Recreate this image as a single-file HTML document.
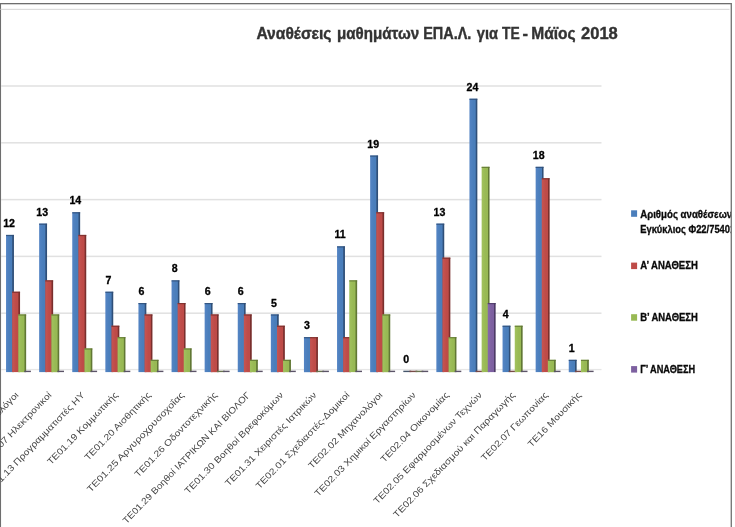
<!DOCTYPE html>
<html lang="el"><head><meta charset="utf-8"><title>Αναθέσεις μαθημάτων ΕΠΑ.Λ. για ΤΕ - Μάϊος 2018</title>
<style>
html,body{margin:0;padding:0;background:#fff;}
body{width:735px;height:527px;overflow:hidden;}
svg{display:block;font-family:"Liberation Sans",sans-serif;}
.v{font-weight:bold;font-size:10.6px;fill:#000;stroke:#000;stroke-width:0.3px;text-anchor:middle;}
.c{font-size:9px;fill:#454545;text-anchor:end;}
.l{font-weight:bold;font-size:10.4px;fill:#0a0a0a;stroke:#0a0a0a;stroke-width:0.3px;}
.t{font-weight:bold;font-size:17px;fill:#333;stroke:#333;stroke-width:0.4px;}
</style></head><body>
<svg width="735" height="527" viewBox="0 0 735 527">
<rect width="735" height="527" fill="#fff"/>

<defs>
<linearGradient id="g0" x1="0" y1="0" x2="1" y2="0"><stop offset="0" stop-color="#5484c4"/><stop offset="0.5" stop-color="#4a7ebb"/><stop offset="0.74" stop-color="#4a7ebb"/><stop offset="0.84" stop-color="#2f4f78"/><stop offset="1" stop-color="#2f4f78"/></linearGradient>
<linearGradient id="g1" x1="0" y1="0" x2="1" y2="0"><stop offset="0" stop-color="#c65552"/><stop offset="0.5" stop-color="#be4b48"/><stop offset="0.74" stop-color="#be4b48"/><stop offset="0.84" stop-color="#7a2f2d"/><stop offset="1" stop-color="#7a2f2d"/></linearGradient>
<linearGradient id="g2" x1="0" y1="0" x2="1" y2="0"><stop offset="0" stop-color="#a2c25e"/><stop offset="0.5" stop-color="#98b954"/><stop offset="0.74" stop-color="#98b954"/><stop offset="0.84" stop-color="#617834"/><stop offset="1" stop-color="#617834"/></linearGradient>
<linearGradient id="g3" x1="0" y1="0" x2="1" y2="0"><stop offset="0" stop-color="#8769aa"/><stop offset="0.5" stop-color="#7d60a0"/><stop offset="0.74" stop-color="#7d60a0"/><stop offset="0.84" stop-color="#4d3b66"/><stop offset="1" stop-color="#4d3b66"/></linearGradient>
</defs>
<rect x="0" y="3" width="732" height="1.3" fill="#6e6e6e"/>
<rect x="0" y="3" width="1.05" height="524" fill="#6e6e6e"/>
<rect x="730.6" y="3" width="1.4" height="524" fill="#7a7a7a"/>
<rect x="0.5" y="8.8" width="729" height="1.2" fill="#dcdcdc"/>
<rect x="1" y="85.25" width="600.5" height="1.5" fill="#e1e1e1"/>
<rect x="1" y="142.05" width="600.5" height="1.5" fill="#e1e1e1"/>
<rect x="1" y="198.85" width="600.5" height="1.5" fill="#e1e1e1"/>
<rect x="1" y="255.65" width="600.5" height="1.5" fill="#e1e1e1"/>
<rect x="1" y="312.45" width="600.5" height="1.5" fill="#e1e1e1"/>
<rect x="1" y="368.9" width="600.5" height="1.3" fill="#e6e6e6"/>
<rect x="6.05" y="234.9" width="7.9" height="137.2" fill="url(#g0)"/>
<rect x="6.05" y="234.9" width="7.9" height="1.2" fill="#2f4f78" opacity="0.85"/>
<rect x="12.15" y="291.7" width="7.9" height="80.4" fill="url(#g1)"/>
<rect x="12.15" y="291.7" width="7.9" height="1.2" fill="#7a2f2d" opacity="0.85"/>
<rect x="18.25" y="314.4" width="7.9" height="57.8" fill="url(#g2)"/>
<rect x="18.25" y="314.4" width="7.9" height="1.2" fill="#617834" opacity="0.85"/>
<rect x="24.3" y="370.7" width="6.6" height="1.4" fill="#5c5468"/>
<text class="v" transform="translate(9.1 227.0) scale(1 1)">12</text>
<rect x="39.15" y="223.6" width="7.9" height="148.5" fill="url(#g0)"/>
<rect x="39.15" y="223.6" width="7.9" height="1.2" fill="#2f4f78" opacity="0.85"/>
<rect x="45.25" y="280.3" width="7.9" height="91.8" fill="url(#g1)"/>
<rect x="45.25" y="280.3" width="7.9" height="1.2" fill="#7a2f2d" opacity="0.85"/>
<rect x="51.35" y="314.4" width="7.9" height="57.8" fill="url(#g2)"/>
<rect x="51.35" y="314.4" width="7.9" height="1.2" fill="#617834" opacity="0.85"/>
<rect x="57.4" y="370.7" width="6.6" height="1.4" fill="#5c5468"/>
<text class="v" transform="translate(42.2 215.7) scale(1 1)">13</text>
<rect x="72.25" y="212.2" width="7.9" height="159.9" fill="url(#g0)"/>
<rect x="72.25" y="212.2" width="7.9" height="1.2" fill="#2f4f78" opacity="0.85"/>
<rect x="78.35" y="234.9" width="7.9" height="137.2" fill="url(#g1)"/>
<rect x="78.35" y="234.9" width="7.9" height="1.2" fill="#7a2f2d" opacity="0.85"/>
<rect x="84.45" y="348.4" width="7.9" height="23.7" fill="url(#g2)"/>
<rect x="84.45" y="348.4" width="7.9" height="1.2" fill="#617834" opacity="0.85"/>
<rect x="90.5" y="370.7" width="6.6" height="1.4" fill="#5c5468"/>
<text class="v" transform="translate(75.3 204.3) scale(1 1)">14</text>
<rect x="105.35" y="291.7" width="7.9" height="80.4" fill="url(#g0)"/>
<rect x="105.35" y="291.7" width="7.9" height="1.2" fill="#2f4f78" opacity="0.85"/>
<rect x="111.45" y="325.7" width="7.9" height="46.4" fill="url(#g1)"/>
<rect x="111.45" y="325.7" width="7.9" height="1.2" fill="#7a2f2d" opacity="0.85"/>
<rect x="117.55" y="337.1" width="7.9" height="35.1" fill="url(#g2)"/>
<rect x="117.55" y="337.1" width="7.9" height="1.2" fill="#617834" opacity="0.85"/>
<rect x="123.7" y="370.7" width="6.6" height="1.4" fill="#5c5468"/>
<text class="v" transform="translate(108.4 283.8) scale(1 1)">7</text>
<rect x="138.45" y="303.0" width="7.9" height="69.1" fill="url(#g0)"/>
<rect x="138.45" y="303.0" width="7.9" height="1.2" fill="#2f4f78" opacity="0.85"/>
<rect x="144.55" y="314.4" width="7.9" height="57.8" fill="url(#g1)"/>
<rect x="144.55" y="314.4" width="7.9" height="1.2" fill="#7a2f2d" opacity="0.85"/>
<rect x="150.65" y="359.8" width="7.9" height="12.4" fill="url(#g2)"/>
<rect x="150.65" y="359.8" width="7.9" height="1.2" fill="#617834" opacity="0.85"/>
<rect x="156.8" y="370.7" width="6.6" height="1.4" fill="#5c5468"/>
<text class="v" transform="translate(141.5 295.1) scale(1 1)">6</text>
<rect x="171.55" y="280.3" width="7.9" height="91.8" fill="url(#g0)"/>
<rect x="171.55" y="280.3" width="7.9" height="1.2" fill="#2f4f78" opacity="0.85"/>
<rect x="177.65" y="303.0" width="7.9" height="69.1" fill="url(#g1)"/>
<rect x="177.65" y="303.0" width="7.9" height="1.2" fill="#7a2f2d" opacity="0.85"/>
<rect x="183.75" y="348.4" width="7.9" height="23.7" fill="url(#g2)"/>
<rect x="183.75" y="348.4" width="7.9" height="1.2" fill="#617834" opacity="0.85"/>
<rect x="189.9" y="370.7" width="6.6" height="1.4" fill="#5c5468"/>
<text class="v" transform="translate(174.6 272.4) scale(1 1)">8</text>
<rect x="204.65" y="303.0" width="7.9" height="69.1" fill="url(#g0)"/>
<rect x="204.65" y="303.0" width="7.9" height="1.2" fill="#2f4f78" opacity="0.85"/>
<rect x="210.75" y="314.4" width="7.9" height="57.8" fill="url(#g1)"/>
<rect x="210.75" y="314.4" width="7.9" height="1.2" fill="#7a2f2d" opacity="0.85"/>
<rect x="216.9" y="370.7" width="7.9" height="1.4" fill="#6a7450"/>
<rect x="223.0" y="370.7" width="6.6" height="1.4" fill="#5c5468"/>
<text class="v" transform="translate(207.7 295.1) scale(1 1)">6</text>
<rect x="237.75" y="303.0" width="7.9" height="69.1" fill="url(#g0)"/>
<rect x="237.75" y="303.0" width="7.9" height="1.2" fill="#2f4f78" opacity="0.85"/>
<rect x="243.85" y="314.4" width="7.9" height="57.8" fill="url(#g1)"/>
<rect x="243.85" y="314.4" width="7.9" height="1.2" fill="#7a2f2d" opacity="0.85"/>
<rect x="249.95" y="359.8" width="7.9" height="12.4" fill="url(#g2)"/>
<rect x="249.95" y="359.8" width="7.9" height="1.2" fill="#617834" opacity="0.85"/>
<rect x="256.1" y="370.7" width="6.6" height="1.4" fill="#5c5468"/>
<text class="v" transform="translate(240.8 295.1) scale(1 1)">6</text>
<rect x="270.85" y="314.4" width="7.9" height="57.8" fill="url(#g0)"/>
<rect x="270.85" y="314.4" width="7.9" height="1.2" fill="#2f4f78" opacity="0.85"/>
<rect x="276.95" y="325.7" width="7.9" height="46.4" fill="url(#g1)"/>
<rect x="276.95" y="325.7" width="7.9" height="1.2" fill="#7a2f2d" opacity="0.85"/>
<rect x="283.05" y="359.8" width="7.9" height="12.4" fill="url(#g2)"/>
<rect x="283.05" y="359.8" width="7.9" height="1.2" fill="#617834" opacity="0.85"/>
<rect x="289.2" y="370.7" width="6.6" height="1.4" fill="#5c5468"/>
<text class="v" transform="translate(273.9 306.5) scale(1 1)">5</text>
<rect x="303.95" y="337.1" width="7.9" height="35.1" fill="url(#g0)"/>
<rect x="303.95" y="337.1" width="7.9" height="1.2" fill="#2f4f78" opacity="0.85"/>
<rect x="310.05" y="337.1" width="7.9" height="35.1" fill="url(#g1)"/>
<rect x="310.05" y="337.1" width="7.9" height="1.2" fill="#7a2f2d" opacity="0.85"/>
<rect x="316.2" y="370.7" width="7.9" height="1.4" fill="#6a7450"/>
<rect x="322.3" y="370.7" width="6.6" height="1.4" fill="#5c5468"/>
<text class="v" transform="translate(307.0 329.2) scale(1 1)">3</text>
<rect x="337.05" y="246.3" width="7.9" height="125.8" fill="url(#g0)"/>
<rect x="337.05" y="246.3" width="7.9" height="1.2" fill="#2f4f78" opacity="0.85"/>
<rect x="343.15" y="337.1" width="7.9" height="35.1" fill="url(#g1)"/>
<rect x="343.15" y="337.1" width="7.9" height="1.2" fill="#7a2f2d" opacity="0.85"/>
<rect x="349.25" y="280.3" width="7.9" height="91.8" fill="url(#g2)"/>
<rect x="349.25" y="280.3" width="7.9" height="1.2" fill="#617834" opacity="0.85"/>
<rect x="355.4" y="370.7" width="6.6" height="1.4" fill="#5c5468"/>
<text class="v" transform="translate(340.1 238.4) scale(1 1)">11</text>
<rect x="370.15" y="155.5" width="7.9" height="216.7" fill="url(#g0)"/>
<rect x="370.15" y="155.5" width="7.9" height="1.2" fill="#2f4f78" opacity="0.85"/>
<rect x="376.25" y="212.2" width="7.9" height="159.9" fill="url(#g1)"/>
<rect x="376.25" y="212.2" width="7.9" height="1.2" fill="#7a2f2d" opacity="0.85"/>
<rect x="382.35" y="314.4" width="7.9" height="57.8" fill="url(#g2)"/>
<rect x="382.35" y="314.4" width="7.9" height="1.2" fill="#617834" opacity="0.85"/>
<rect x="388.5" y="370.7" width="6.6" height="1.4" fill="#5c5468"/>
<text class="v" transform="translate(373.2 147.6) scale(1 1)">19</text>
<rect x="403.3" y="370.7" width="7.9" height="1.4" fill="#46566c"/>
<rect x="409.4" y="370.7" width="7.9" height="1.4" fill="#7a4a48"/>
<rect x="415.5" y="370.7" width="7.9" height="1.4" fill="#6a7450"/>
<rect x="421.6" y="370.7" width="6.6" height="1.4" fill="#5c5468"/>
<text class="v" transform="translate(406.3 363.2) scale(1 1)">0</text>
<rect x="436.35" y="223.6" width="7.9" height="148.5" fill="url(#g0)"/>
<rect x="436.35" y="223.6" width="7.9" height="1.2" fill="#2f4f78" opacity="0.85"/>
<rect x="442.45" y="257.6" width="7.9" height="114.5" fill="url(#g1)"/>
<rect x="442.45" y="257.6" width="7.9" height="1.2" fill="#7a2f2d" opacity="0.85"/>
<rect x="448.55" y="337.1" width="7.9" height="35.1" fill="url(#g2)"/>
<rect x="448.55" y="337.1" width="7.9" height="1.2" fill="#617834" opacity="0.85"/>
<rect x="454.7" y="370.7" width="6.6" height="1.4" fill="#5c5468"/>
<text class="v" transform="translate(439.4 215.7) scale(1 1)">13</text>
<rect x="469.45" y="98.7" width="7.9" height="273.4" fill="url(#g0)"/>
<rect x="469.45" y="98.7" width="7.9" height="1.2" fill="#2f4f78" opacity="0.85"/>
<rect x="475.6" y="370.7" width="7.9" height="1.4" fill="#7a4a48"/>
<rect x="481.65" y="166.8" width="7.9" height="205.3" fill="url(#g2)"/>
<rect x="481.65" y="166.8" width="7.9" height="1.2" fill="#617834" opacity="0.85"/>
<rect x="487.75" y="303.0" width="7.9" height="69.1" fill="url(#g3)"/>
<rect x="487.75" y="303.0" width="7.9" height="1.2" fill="#4d3b66" opacity="0.85"/>
<text class="v" transform="translate(472.5 90.8) scale(1 1)">24</text>
<rect x="502.55" y="325.7" width="7.9" height="46.4" fill="url(#g0)"/>
<rect x="502.55" y="325.7" width="7.9" height="1.2" fill="#2f4f78" opacity="0.85"/>
<rect x="508.7" y="370.7" width="7.9" height="1.4" fill="#7a4a48"/>
<rect x="514.75" y="325.7" width="7.9" height="46.4" fill="url(#g2)"/>
<rect x="514.75" y="325.7" width="7.9" height="1.2" fill="#617834" opacity="0.85"/>
<rect x="520.9" y="370.7" width="6.6" height="1.4" fill="#5c5468"/>
<text class="v" transform="translate(505.6 317.8) scale(1 1)">4</text>
<rect x="535.65" y="166.8" width="7.9" height="205.3" fill="url(#g0)"/>
<rect x="535.65" y="166.8" width="7.9" height="1.2" fill="#2f4f78" opacity="0.85"/>
<rect x="541.75" y="178.2" width="7.9" height="193.9" fill="url(#g1)"/>
<rect x="541.75" y="178.2" width="7.9" height="1.2" fill="#7a2f2d" opacity="0.85"/>
<rect x="547.85" y="359.8" width="7.9" height="12.4" fill="url(#g2)"/>
<rect x="547.85" y="359.8" width="7.9" height="1.2" fill="#617834" opacity="0.85"/>
<rect x="553.9" y="370.7" width="6.6" height="1.4" fill="#5c5468"/>
<text class="v" transform="translate(538.7 158.9) scale(1 1)">18</text>
<rect x="568.75" y="359.8" width="7.9" height="12.4" fill="url(#g0)"/>
<rect x="568.75" y="359.8" width="7.9" height="1.2" fill="#2f4f78" opacity="0.85"/>
<rect x="574.9" y="370.7" width="7.9" height="1.4" fill="#7a4a48"/>
<rect x="580.95" y="359.8" width="7.9" height="12.4" fill="url(#g2)"/>
<rect x="580.95" y="359.8" width="7.9" height="1.2" fill="#617834" opacity="0.85"/>
<rect x="587.0" y="370.7" width="6.6" height="1.4" fill="#5c5468"/>
<text class="v" transform="translate(571.8 351.9) scale(1 1)">1</text>
<text class="c" transform="translate(19.1 395.5) rotate(-46) scale(1.155 1)">ΤΕ01.06 Ηλεκτρολόγοι</text>
<text class="c" transform="translate(52.1 395.5) rotate(-46) scale(1.155 1)">ΤΕ01.07 Ηλεκτρονικοί</text>
<text class="c" transform="translate(85.2 395.5) rotate(-46) scale(1.155 1)">ΤΕ01.13 Προγραμματιστές ΗΥ</text>
<text class="c" transform="translate(118.4 395.5) rotate(-46) scale(1.155 1)">ΤΕ01.19 Κομμωτικής</text>
<text class="c" transform="translate(151.5 395.5) rotate(-46) scale(1.155 1)">ΤΕ01.20 Αισθητικής</text>
<text class="c" transform="translate(184.6 395.5) rotate(-46) scale(1.201 1)">ΤΕ01.25 Αργυροχρυσοχοΐας</text>
<text class="c" transform="translate(217.7 395.5) rotate(-46) scale(1.155 1)">ΤΕ01.26 Οδοντοτεχνικής</text>
<text class="c" transform="translate(250.8 395.5) rotate(-46) scale(1.115 1)">ΤΕ01.29 Βοηθοί ΙΑΤΡΙΚΩΝ ΚΑΙ ΒΙΟΛΟΓ</text>
<text class="c" transform="translate(283.9 395.5) rotate(-46) scale(1.155 1)">ΤΕ01.30 Βοηθοί Βρεφοκόμων</text>
<text class="c" transform="translate(317.0 395.5) rotate(-46) scale(1.155 1)">ΤΕ01.31 Χειριστές Ιατρικών</text>
<text class="c" transform="translate(350.1 395.5) rotate(-46) scale(1.155 1)">ΤΕ02.01 Σχεδιαστές-Δομικοί</text>
<text class="c" transform="translate(383.2 395.5) rotate(-46) scale(1.155 1)">ΤΕ02.02 Μηχανολόγοι</text>
<text class="c" transform="translate(416.3 395.5) rotate(-46) scale(1.155 1)">ΤΕ02.03 Χημικοί Εργαστηρίων</text>
<text class="c" transform="translate(449.4 395.5) rotate(-46) scale(1.155 1)">ΤΕ02.04 Οικονομίας</text>
<text class="c" transform="translate(482.5 395.5) rotate(-46) scale(1.155 1)">ΤΕ02.05 Εφαρμοσμένων Τεχνών</text>
<text class="c" transform="translate(515.5 395.5) rotate(-46) scale(1.155 1)">ΤΕ02.06 Σχεδιασμού και Παραγωγής</text>
<text class="c" transform="translate(548.6 395.5) rotate(-46) scale(1.155 1)">ΤΕ02.07 Γεωπονίας</text>
<text class="c" transform="translate(581.8 395.5) rotate(-46) scale(1.155 1)">ΤΕ16 Μουσικής</text>
<text class="t" x="256.4" y="38.8" textLength="75.1" lengthAdjust="spacingAndGlyphs">Αναθέσεις</text>
<text class="t" x="337.0" y="38.8" textLength="82.1" lengthAdjust="spacingAndGlyphs">μαθημάτων</text>
<text class="t" x="423.2" y="38.8" textLength="48.2" lengthAdjust="spacingAndGlyphs">ΕΠΑ.Λ.</text>
<text class="t" x="476.8" y="38.8" textLength="21.2" lengthAdjust="spacingAndGlyphs">για</text>
<text class="t" x="502.1" y="38.8" textLength="17.7" lengthAdjust="spacingAndGlyphs">ΤΕ</text>
<text class="t" x="522.5" y="38.8" textLength="5.5" lengthAdjust="spacingAndGlyphs">-</text>
<text class="t" x="531.2" y="38.8" textLength="44.4" lengthAdjust="spacingAndGlyphs">Μάϊος</text>
<text class="t" x="581.0" y="38.8" textLength="36.8" lengthAdjust="spacingAndGlyphs">2018</text>
<rect x="631.1" y="210.3" width="6" height="6.5" fill="#4a7ebb"/>
<rect x="631.1" y="262.6" width="6" height="6.5" fill="#be4b48"/>
<rect x="631.1" y="314.2" width="6" height="6.5" fill="#98b954"/>
<rect x="631.1" y="366.1" width="6" height="6.5" fill="#7d60a0"/>
<clipPath id="lc"><rect x="600" y="190" width="130.6" height="60"/></clipPath>
<g clip-path="url(#lc)"><text class="l" x="640.2" y="217.5" textLength="92" lengthAdjust="spacingAndGlyphs">Αριθμός αναθέσεων</text>
<text class="l" x="640.2" y="232.5" textLength="95" lengthAdjust="spacingAndGlyphs">Εγκύκλιος Φ22/75401</text></g>
<text class="l" x="640.2" y="268.9" textLength="57.7" lengthAdjust="spacingAndGlyphs">Α’ ΑΝΑΘΕΣΗ</text>
<text class="l" x="640.2" y="321" textLength="57.7" lengthAdjust="spacingAndGlyphs">Β’ ΑΝΑΘΕΣΗ</text>
<text class="l" x="640.2" y="373" textLength="55" lengthAdjust="spacingAndGlyphs">Γ’ ΑΝΑΘΕΣΗ</text>
</svg></body></html>
